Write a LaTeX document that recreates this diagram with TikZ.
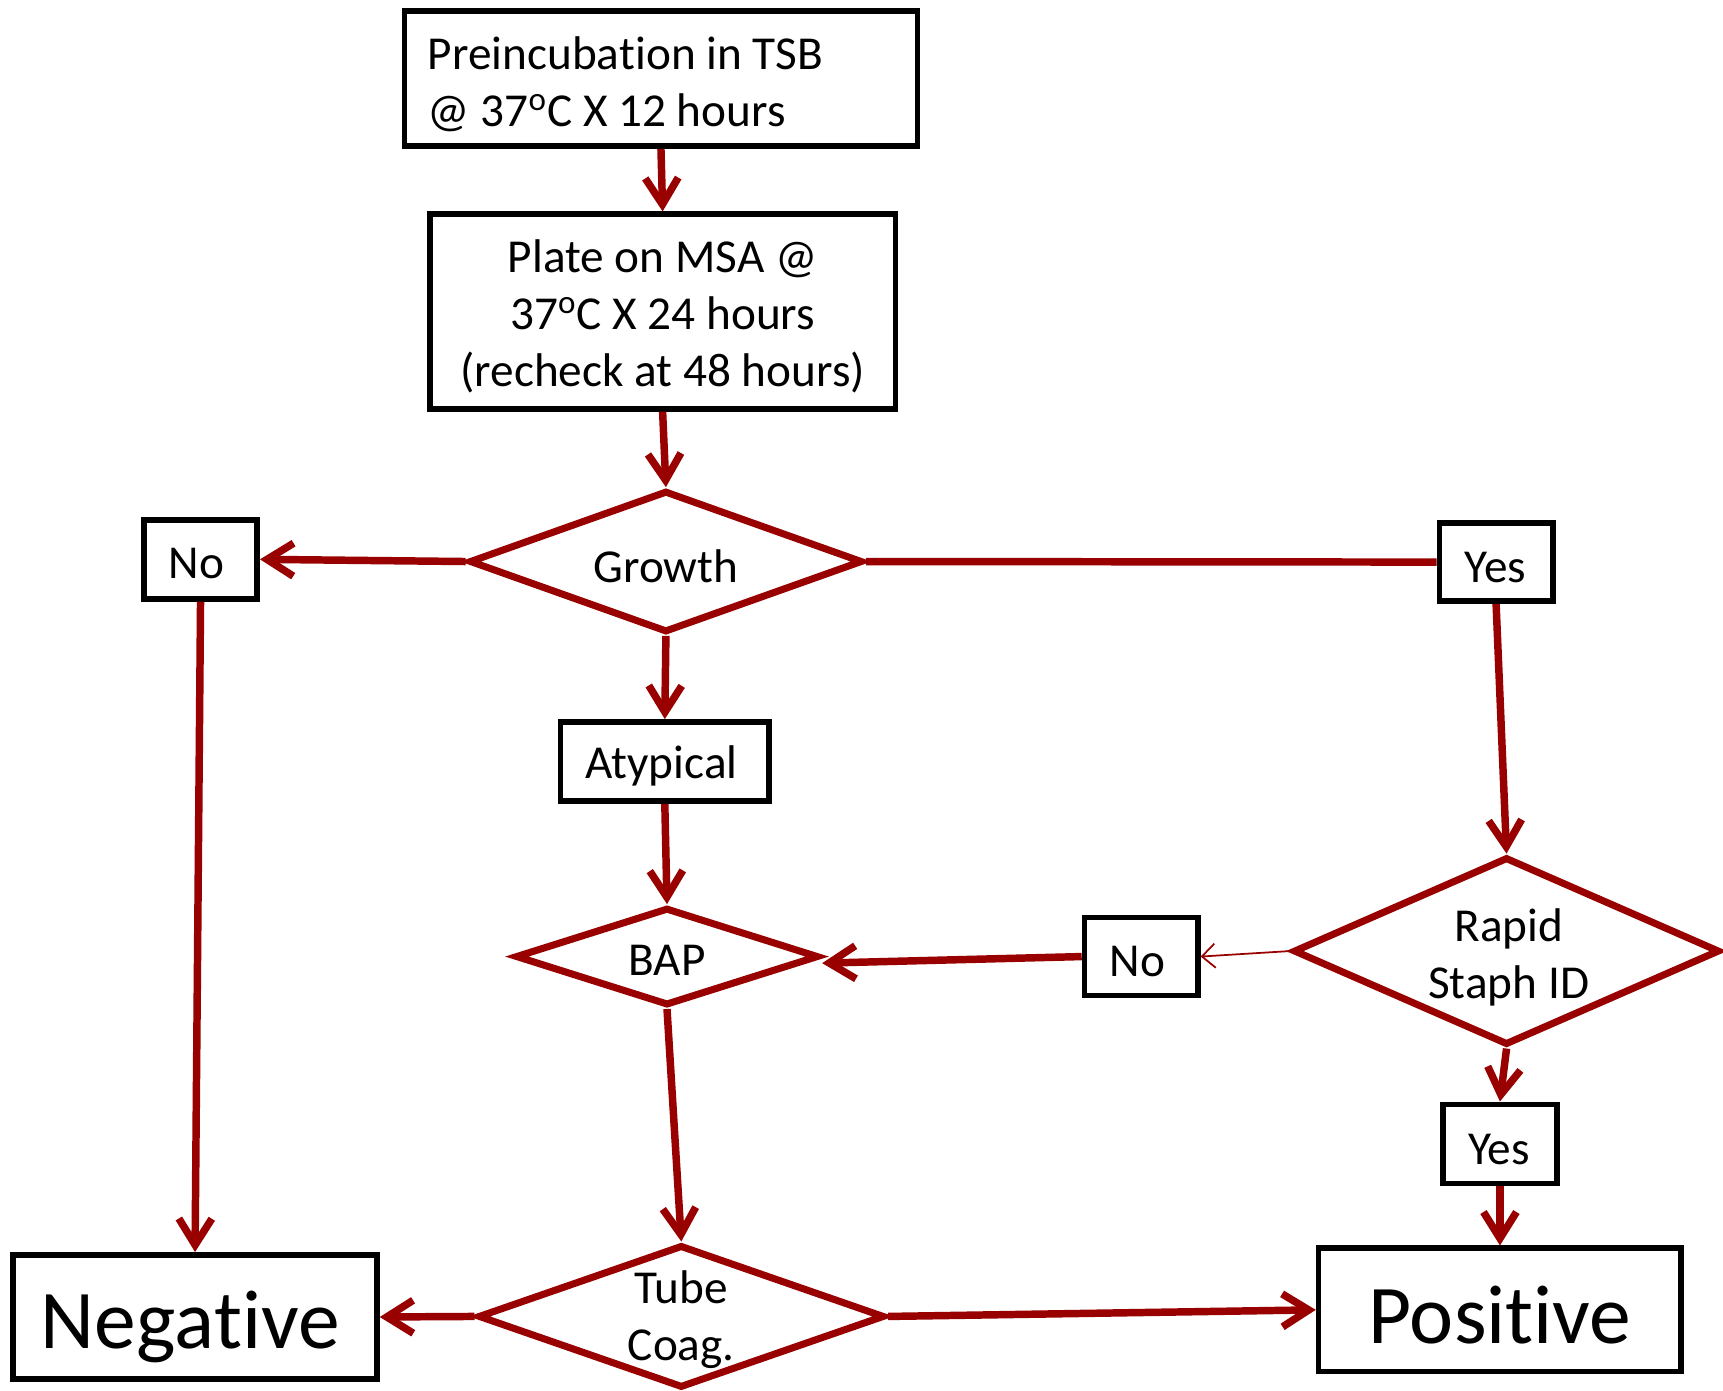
\documentclass[tikz,border=0pt]{standalone}
\usepackage{fontspec}
\setmainfont{Carlito}[Ligatures={NoCommon,NoContextual}]
\usetikzlibrary{arrows.meta,shapes.geometric}
\definecolor{dred}{HTML}{990000}
\begin{document}
\begin{tikzpicture}[x=0.5pt,y=-0.5pt,
  box/.style={draw=black,line width=2.6pt,fill=white,inner sep=0pt},
  dia/.style={draw=dred,line width=3.2pt,shape=diamond,inner sep=0pt,fill=white},
  dtext/.style={align=center,inner sep=0pt,font=\fontsize{21.5}{26}\selectfont},
  bigtext/.style={inner sep=0pt,font=\fontsize{38}{46}\selectfont},
  conn/.style={draw=dred,line width=3.4pt},
  arr/.style={conn,-{Straight Barb[length=12pt,width=15pt]}},
  thinarr/.style={draw=dred,line width=0.8pt,-{Straight Barb[length=6pt,width=11pt]}}
]
\useasboundingbox (0,0) rectangle (1568,1265);
% boxes
\node[box,minimum width=233.5pt,minimum height=61.5pt] (pre) at (601.5,71.5) {};
\node[dtext,align=flush left,anchor=west] (pret) at (389,77) {Preincuba\kern0pt tion in TSB\\@ 37\textsuperscript{o}C X 12 hours};
\node[box,minimum width=212pt,minimum height=88.5pt] (plate) at (603,283.5) {};
\node[dtext] (platet) at (603,288) {Plate on MSA @\\37\textsuperscript{o}C X 24 hours\\(recheck at 48 hours)};
\node[dia,minimum width=179pt,minimum height=64.5pt] (growth) at (606,511) {};
\node[dtext] (growtht) at (606,515) {Growth};
\node[box,minimum width=51.5pt,minimum height=36pt] (nol) at (182.5,509) {};
\node[dtext] (nolt) at (179,513) {No};
\node[box,minimum width=51.5pt,minimum height=35.5pt] (yesr) at (1361.5,511.5) {};
\node[dtext] (yesrt) at (1361,516) {Yes};
\node[box,minimum width=95pt,minimum height=36pt] (atyp) at (605,693) {};
\node[dtext] (atypt) at (602,697) {Atypical};
\node[dia,minimum width=138pt,minimum height=44.5pt] (bap) at (607,870.5) {};
\node[dtext] (bapt) at (607,874) {BAP};
\node[dia,minimum width=194pt,minimum height=85.5pt] (rapid) at (1371,865.5) {};
\node[dtext] (rapidt) at (1373,871) {Rapid\\Staph ID};
\node[box,minimum width=51.5pt,minimum height=35.5pt] (nom) at (1038.5,870.5) {};
\node[dtext] (nomt) at (1035,875) {No};
\node[box,minimum width=52pt,minimum height=36pt] (yesb) at (1365,1041) {};
\node[dtext] (yesbt) at (1364,1046) {Yes};
\node[dia,minimum width=185pt,minimum height=65pt] (tube) at (620,1198) {};
\node[dtext] (tubet) at (620,1201) {Tube\\Coag.};
\node[box,minimum width=165.5pt,minimum height=56.5pt] (neg) at (177.5,1198.5) {};
\node[bigtext] (negt) at (173,1208) {Nega\kern0pt tive};
\node[box,minimum width=165pt,minimum height=56pt] (pos) at (1365,1192) {};
\node[bigtext] (post) at (1365,1197) {Posi\kern0pt ti\kern0pt ve};
% connectors
\draw[arr] (pre.south) -- (plate.north);
\draw[arr] (plate.south) -- (growth.north);
\draw[arr] (growth.west) -- (nol.east);
\draw[conn] (growth.east) -- (yesr.west);
\draw[arr] (growth.south) -- (atyp.north);
\draw[arr] (atyp.south) -- (bap.north);
\draw[arr] (yesr.south) -- (rapid.north);
\draw[thinarr] (rapid.west) -- (nom.east);
\draw[arr] (nom.west) -- ([yshift=-3pt]bap.east);
\draw[arr] (bap.south) -- (tube.north);
\draw[arr] (nol.south) -- (neg.north);
\draw[arr] (tube.west) -- (neg.east);
\draw[arr] (tube.east) -- (pos.west);
\draw[arr] (rapid.south) -- (yesb.north);
\draw[arr] (yesb.south) -- (pos.north);
\end{tikzpicture}
\end{document}
